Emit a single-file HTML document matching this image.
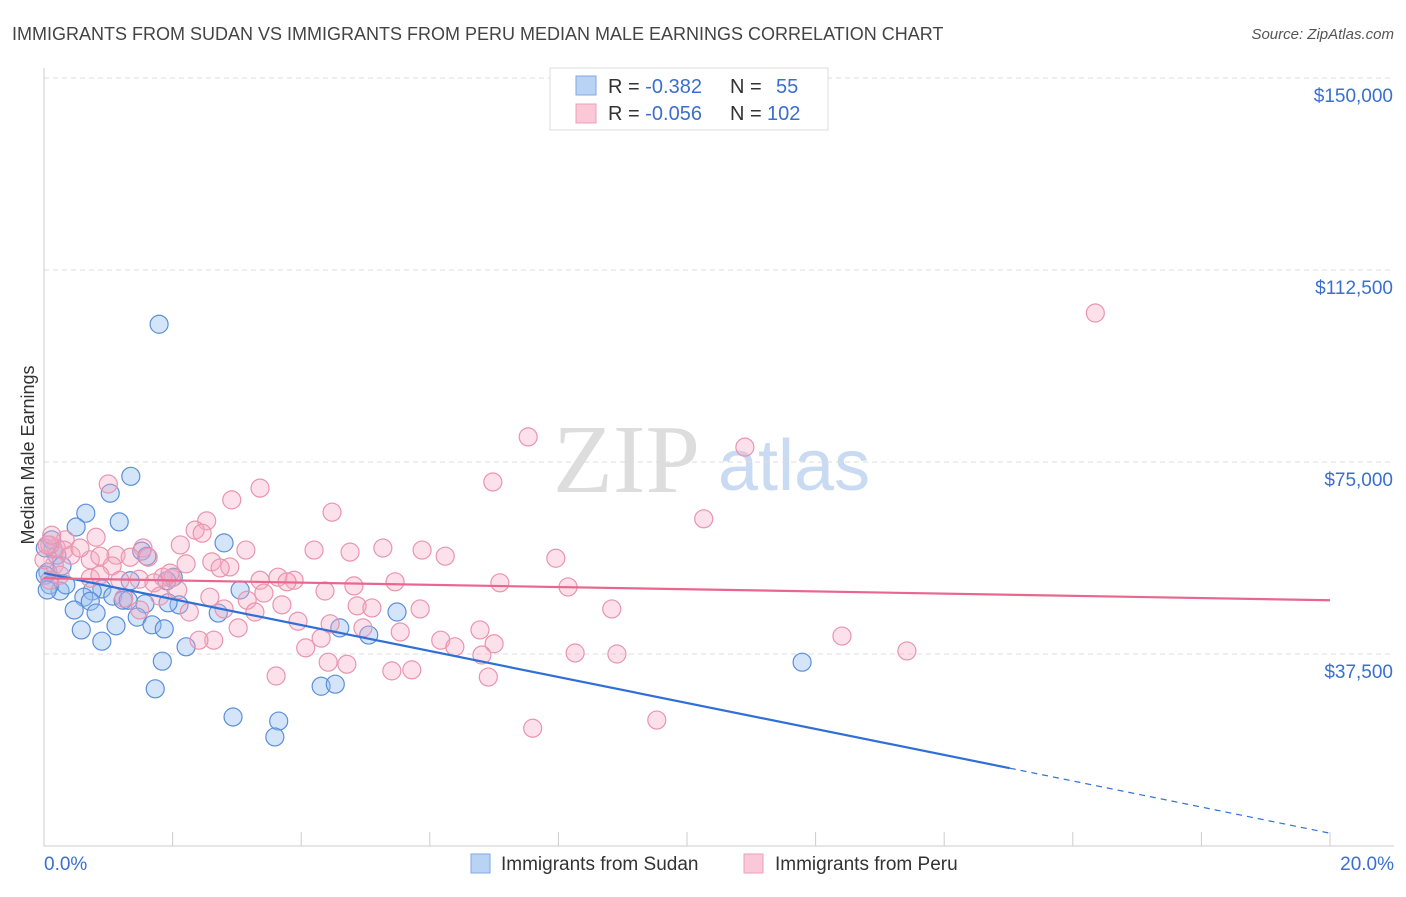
<!DOCTYPE html>
<html><head><meta charset="utf-8"><style>
body{margin:0;background:#fff;font-family:"Liberation Sans",sans-serif;}
svg text{font-family:"Liberation Sans",sans-serif;}
</style></head><body>
<svg id="chart" width="1406" height="892" viewBox="0 0 1406 892" xmlns="http://www.w3.org/2000/svg">
<text x="12" y="40" font-size="18" fill="#444">IMMIGRANTS FROM SUDAN VS IMMIGRANTS FROM PERU MEDIAN MALE EARNINGS CORRELATION CHART</text>
<text x="1394" y="39" font-size="15" fill="#555" font-style="italic" text-anchor="end">Source: ZipAtlas.com</text>
<text x="553" y="492" font-size="98" fill="#ddd" font-family="Liberation Serif" style="font-family:'Liberation Serif',serif">ZIP</text>
<text x="718" y="490" font-size="72" fill="#c9dbf2">atlas</text>
<text transform="translate(34,455) rotate(-90)" font-size="18" fill="#333" text-anchor="middle">Median Male Earnings</text>
<g id="grid"></g>
<g id="marks"></g>
<g id="legend-top">
<rect x="550" y="68" width="278" height="62" fill="#fff" stroke="#ddd"/>
<rect x="576" y="76" width="20" height="19" fill="#b9d3f5" stroke="#7ea8e4"/>
<rect x="576" y="104" width="20" height="19" fill="#fbc8d7" stroke="#eda0b8"/>
<text x="608" y="93" font-size="20" fill="#333">R = <tspan fill="#3a6fd0">-0.382</tspan></text>
<text x="730" y="93" font-size="20" fill="#333">N = </text><text x="776" y="93" font-size="20" fill="#3a6fd0">55</text>
<text x="608" y="120" font-size="20" fill="#333">R = <tspan fill="#3a6fd0">-0.056</tspan></text>
<text x="730" y="120" font-size="20" fill="#333">N = </text><text x="767" y="120" font-size="20" fill="#3a6fd0">102</text>
</g>
<g>
<rect x="471" y="854" width="19" height="19" fill="#b9d3f5" stroke="#7ea8e4"/>
<text x="501" y="870" font-size="19" fill="#333">Immigrants from Sudan</text>
<rect x="744" y="854" width="19" height="19" fill="#fbc8d7" stroke="#eda0b8"/>
<text x="775" y="870" font-size="19" fill="#333">Immigrants from Peru</text>
</g>
<text x="44" y="870" font-size="19" fill="#3a6fd0">0.0%</text>
<text x="1394" y="870" font-size="19" fill="#3a6fd0" text-anchor="end">20.0%</text>
</svg>
<script>
const yTicks=[37500,75000,112500,150000];
const yTickLabels=["$37,500","$75,000","$112,500","$150,000"];
const sudanX=[1.79,1.35,1.03,0.65,0.50,1.17,2.80,1.52,1.60,2.01,1.91,0.14,0.20,0.06,0.28,0.02,1.34,0.90,0.75,1.07,1.23,0.62,0.72,0.25,1.57,2.10,2.71,3.05,0.47,0.81,1.45,1.68,1.87,0.58,1.12,0.90,2.21,1.84,1.73,2.94,3.65,3.59,4.31,4.53,4.60,5.05,5.49,11.79,0.02,0.09,0.34,1.31,1.93,0.12,0.05];
const sudanY=[101900,72200,68900,65000,62300,63300,59200,57600,56600,52500,51800,58000,56800,53500,54700,58200,51800,50200,49800,48800,48000,48600,47800,49800,47300,47100,45500,50000,46100,45500,44700,43200,42400,42200,43000,40000,38900,36100,30700,25200,24400,21300,31200,31600,42600,41200,45700,35900,52900,51000,51000,48000,47500,59800,50000];
const peruX=[16.35,7.53,10.90,6.98,1.00,3.36,2.92,4.48,10.26,2.53,2.35,2.46,0.81,0.33,0.19,1.54,0.31,4.20,4.76,5.27,5.88,6.24,7.96,3.14,2.61,2.21,1.12,0.72,1.34,1.62,0.87,2.89,3.64,3.36,2.74,1.98,1.85,1.48,1.71,5.46,7.09,8.15,4.82,4.37,3.89,3.78,3.42,3.16,2.08,1.80,1.24,1.06,0.16,0.09,0.42,0.56,0.09,2.80,3.28,2.26,3.70,4.87,5.10,5.85,8.83,3.95,4.45,4.96,5.54,6.17,6.78,7.00,6.39,3.02,2.64,2.41,4.31,4.07,6.81,8.26,8.91,12.41,13.42,4.42,4.71,5.72,5.41,3.61,6.91,9.53,7.60,0.72,0.25,2.58,1.96,1.18,0.00,0.05,0.12,1.49,0.87,2.12];
const peruY=[104100,79900,77900,71100,70700,69900,67600,65200,63900,63500,61700,61100,60300,59800,58200,58200,57800,57800,57400,58200,57800,56600,56200,57800,55500,55100,56800,55900,56400,56400,56600,54500,52500,51900,54300,52300,52500,52100,51400,51600,51400,50600,50800,49800,51900,51600,49400,48000,50000,48800,48400,54700,54900,51900,56800,58200,58800,46300,45700,45700,47100,46900,46500,46300,46300,43900,43400,42600,41800,40200,42200,39500,38900,42600,40200,40200,40600,38700,37300,37700,37500,41000,38100,35900,35500,34400,34200,33200,33000,24600,23000,52300,52900,48600,53300,51900,55900,58800,60700,46100,52900,58800];
const sudanTrendX=[0,15.02,20];
const sudanTrendY=[53300,15200,2500];
const peruTrendX=[0,20];
const peruTrendY=[52300,48000];

const NS="http://www.w3.org/2000/svg";
const xs=p=>44+p*64.3;
const ys=v=>846-v*192/37500;
function mk(tag,attrs,parent){const e=document.createElementNS(NS,tag);for(const k in attrs)e.setAttribute(k,attrs[k]);parent.appendChild(e);return e;}
const grid=document.getElementById('grid'),marks=document.getElementById('marks');
yTicks.forEach((t,i)=>{
 const l=mk('line',{x1:44,x2:1394,y1:ys(t),y2:ys(t),stroke:'#ddd','stroke-dasharray':'5,4'},grid);
 
 
 const tx=mk('text',{x:1393,y:ys(t)+24,'font-size':19,fill:'#3a6fd0','text-anchor':'end'},grid);
 tx.textContent=yTickLabels[i];
 
 
});
const ya=mk('line',{x1:44,x2:44,y1:68,y2:846,stroke:'#ccc'},grid);


const xa=mk('line',{x1:44,x2:1394,y1:846,y2:846,stroke:'#ccc'},grid);


for(let i=1;i<=10;i++){
 const tk=mk('line',{x1:xs(i*2),x2:xs(i*2),y1:832,y2:846,stroke:'#ccc'},grid);
 
 
}
sudanX.forEach((x,i)=>{
 const c=mk('circle',{cx:xs(x),cy:ys(sudanY[i]),r:9,fill:'rgba(150,190,240,0.4)',stroke:'#5b8fd9','stroke-width':1.2},marks);
 
 
});
peruX.forEach((x,i)=>{
 const c=mk('circle',{cx:xs(x),cy:ys(peruY[i]),r:9,fill:'rgba(245,170,195,0.35)',stroke:'#ea94ae','stroke-width':1.2},marks);
 
 
});
const s1=mk('line',{x1:xs(sudanTrendX[0]),y1:ys(sudanTrendY[0]),x2:xs(sudanTrendX[1]),y2:ys(sudanTrendY[1]),stroke:'#2f6fd6','stroke-width':2.2},marks);


const s2=mk('line',{x1:xs(sudanTrendX[1]),y1:ys(sudanTrendY[1]),x2:xs(sudanTrendX[2]),y2:ys(sudanTrendY[2]),stroke:'#2f6fd6','stroke-width':1.2,'stroke-dasharray':'6,5'},marks);


const p1=mk('line',{x1:xs(peruTrendX[0]),y1:ys(peruTrendY[0]),x2:xs(peruTrendX[1]),y2:ys(peruTrendY[1]),stroke:'#e8668f','stroke-width':2.2},marks);


</script>
</body></html>
